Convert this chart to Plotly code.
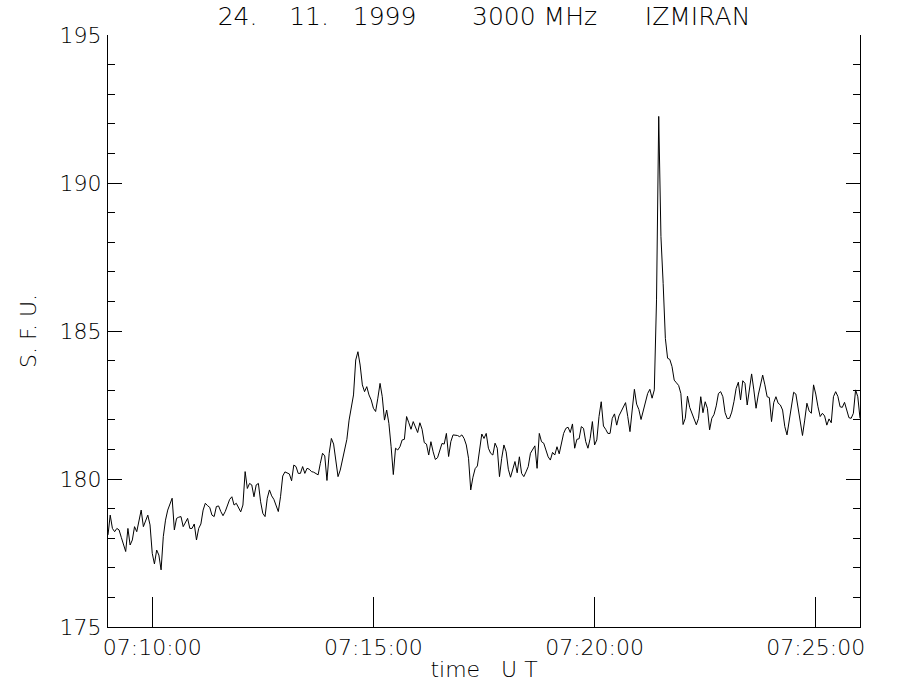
import pandas as pd
import plotly.graph_objects as go

# Radio flux at 3000 MHz, IZMIRAN, 24 Nov 1999, sampled every 3 s from 07:09:00 UT
start_time = "1999-11-24 07:09:00"
sample_seconds = 3
flux_sfu = [
    # 07:09:00 - 07:11:03
    178.11, 178.78, 178.33, 178.22, 178.33, 178.28, 178.03, 177.80, 177.55, 178.33,
    177.77, 177.94, 178.39, 178.22, 178.59, 178.95, 178.39, 178.61, 178.78, 178.45,
    177.49, 177.13, 177.60, 177.43, 176.93, 178.05, 178.61, 178.95, 179.12, 179.35,
    178.28, 178.67, 178.71, 178.73, 178.39, 178.56, 178.67, 178.33, 178.33, 178.48,
    177.94, 178.33,
    # 07:11:06 - 07:13:12
    178.48, 178.95, 179.18, 179.10, 179.04, 178.78, 178.73, 179.07, 179.09, 178.90,
    178.76, 178.90, 179.09, 179.31, 179.40, 179.12, 179.18, 179.04, 178.89, 179.12,
    180.25, 179.68, 179.85, 179.80, 179.40, 179.80, 179.85, 179.23, 178.84, 178.73,
    179.35, 179.63, 179.43, 179.31, 179.09, 178.90, 179.40, 180.10, 180.24, 180.21,
    180.17, 179.94, 180.47,
    # 07:13:15 - 07:15:21
    180.42, 180.19, 180.19, 180.42, 180.19, 180.36, 180.33, 180.25, 180.23, 180.19,
    180.14, 180.53, 180.87, 180.78, 179.95, 180.87, 181.37, 181.18, 180.64, 180.08,
    180.30, 180.64, 180.98, 181.34, 181.99, 182.39, 182.84, 184.02, 184.30, 183.85,
    183.18, 182.95, 183.12, 182.84, 182.67, 182.39, 182.28, 182.73, 183.23, 182.78,
    181.99, 182.33, 181.88,
    # 07:15:24 - 07:17:30
    181.09, 180.15, 181.04, 180.98, 181.09, 181.32, 181.34, 182.11, 181.90, 181.68,
    181.94, 181.75, 181.57, 181.90, 181.68, 181.23, 181.18, 180.81, 181.26, 180.92,
    180.66, 180.72, 180.96, 181.20, 181.18, 181.54, 180.76, 181.26, 181.49, 181.49,
    181.47, 181.43, 181.49, 181.37, 181.15, 180.70, 179.63, 180.06, 180.35, 180.44,
    181.04, 181.52, 181.37,
    # 07:17:33 - 07:19:39
    181.54, 181.04, 180.87, 180.81, 181.21, 181.04, 180.08, 180.70, 181.15, 180.92,
    180.33, 180.06, 180.33, 180.59, 180.21, 180.75, 180.19, 180.08, 180.24, 180.42,
    180.87, 181.00, 181.12, 180.36, 181.54, 181.26, 181.21, 180.98, 180.75, 180.64,
    180.90, 180.81, 181.09, 180.85, 181.15, 181.54, 181.71, 181.75, 181.57, 181.86,
    181.04, 181.34, 181.36,
    # 07:19:42 - 07:21:45
    181.77, 181.71, 181.26, 181.04, 181.37, 181.94, 181.15, 181.32, 182.11, 182.61,
    181.79, 181.68, 181.54, 181.54, 182.05, 182.20, 181.82, 182.13, 182.29, 182.39,
    182.58, 182.11, 181.60, 182.33, 183.03, 182.53, 182.35, 182.01, 182.33, 182.61,
    182.89, 183.03, 182.73, 183.01, 186.05, 192.25, 188.19, 186.61, 184.75, 184.08,
    184.04, 183.80,
    # 07:21:48 - 07:23:57
    183.34, 183.25, 183.16, 182.89, 181.84, 182.05, 182.80, 182.42, 182.22, 182.03,
    181.83, 182.05, 182.78, 182.24, 182.61, 182.39, 181.66, 182.05, 182.18, 182.47,
    182.89, 182.95, 182.78, 182.24, 182.04, 182.05, 182.26, 182.61, 183.06, 183.27,
    182.67, 183.32, 183.23, 182.50, 183.01, 183.55, 183.01, 182.39, 182.84, 183.23,
    183.51, 183.18, 182.78, 182.75,
    # 07:24:00 - 07:26:00
    181.94, 182.58, 182.78, 182.56, 182.50, 182.33, 181.77, 181.49, 181.97, 182.33,
    182.93, 182.87, 182.44, 181.88, 181.47, 181.99, 182.56, 182.30, 182.22, 183.18,
    182.87, 182.44, 182.11, 182.22, 182.13, 181.82, 182.03, 181.90, 182.78, 182.95,
    182.79, 182.44, 182.42, 182.59, 182.30, 182.07, 182.05, 182.22, 183.01, 182.78,
    182.05,
]

x_tick_times = ["1999-11-24 07:10:00", "1999-11-24 07:15:00",
                "1999-11-24 07:20:00", "1999-11-24 07:25:00"]
x_tick_labels = ["07:10:00", "07:15:00", "07:20:00", "07:25:00"]
x_range = ["1999-11-24 07:09:00", "1999-11-24 07:26:00"]
y_range = [175, 195]

times = pd.date_range(start=start_time, periods=len(flux_sfu), freq=f"{sample_seconds}s")

NB = "\u00a0"
title_text = f"24.{NB*4}11.{NB*3}1999{NB*7}3000{NB}MHz{NB*6}IZMIRAN"
FONT = "DejaVu Sans, Liberation Sans, Arial, sans-serif"

FIG_W, FIG_H = 900, 700

fig = go.Figure()
fig.add_trace(go.Scatter(
    x=times, y=flux_sfu, mode="lines",
    line=dict(color="black", width=1),
    showlegend=False, hoverinfo="x+y",
))

fig.update_layout(
    width=FIG_W, height=FIG_H,
    paper_bgcolor="white", plot_bgcolor="white",
    margin=dict(l=108, r=40, t=35, b=73, autoexpand=False),
    font=dict(family=FONT, size=22, color="black", weight=200),
    title=dict(text=title_text, x=0.5, xref="paper", xanchor="center",
               y=1 - 16 / FIG_H, yref="container", yanchor="middle",
               font=dict(family=FONT, size=25, color="black", weight=200)),
)

fig.update_xaxes(
    type="date", range=x_range, automargin=False,
    tickmode="array", tickvals=x_tick_times, ticktext=x_tick_labels,
    ticks="inside", ticklen=30, tickwidth=1, tickcolor="black",
    showline=True, linecolor="black", linewidth=1, mirror=False,
    showgrid=False, zeroline=False,
    tickfont=dict(family=FONT, size=22, color="black", weight=200),
    ticklabelstandoff=1,
    title=dict(text=f"time{NB*3}U{NB}T", standoff=2,
               font=dict(family=FONT, size=22, color="black", weight=200)),
)

fig.update_yaxes(
    range=y_range, tickmode="linear", tick0=175, dtick=5, automargin=False,
    ticks="inside", ticklen=14, tickwidth=1, tickcolor="black",
    minor=dict(dtick=1, tick0=175, ticks="inside", ticklen=7,
               tickwidth=1, tickcolor="black", showgrid=False),
    showline=True, linecolor="black", linewidth=1, mirror="ticks",
    showgrid=False, zeroline=False,
    tickfont=dict(family=FONT, size=22, color="black", weight=200),
    ticklabelstandoff=1,
    title=dict(text=f"S.{NB}F.{NB}U.", standoff=16,
               font=dict(family=FONT, size=22, color="black", weight=200)),
)

# remove the default page margin so the figure sits at the window's top-left corner
fig.write_html("out.html", config={"displayModeBar": False},
               post_script="document.body.style.margin='0';")
